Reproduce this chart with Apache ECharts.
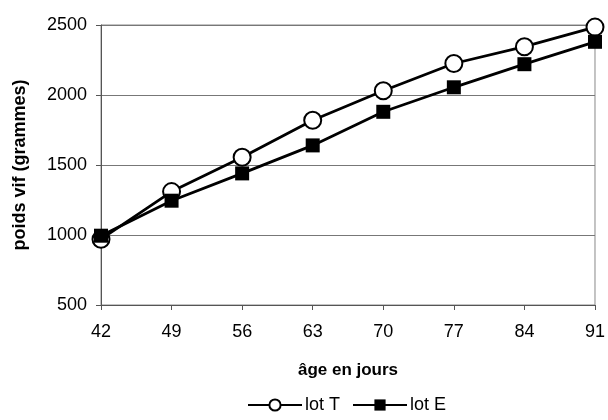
<!DOCTYPE html>
<html><head><meta charset="utf-8">
<script src="https://cdn.jsdelivr.net/npm/echarts@6/dist/echarts.min.js"></script>
<style>html,body{margin:0;padding:0;background:#fff}#c{width:608px;height:420px}</style>
</head><body><div id="c"></div>
<script>
const days = ['42','49','56','63','70','77','84','91'];
const lotT = [970, 1310, 1555, 1820, 2030, 2225, 2345, 2485];
const lotE = [995, 1245, 1440, 1640, 1880, 2055, 2220, 2380];
const yTicks = {min: 500, max: 2500, interval: 500};

const chart = echarts.init(document.getElementById('c'));
const font = 'Liberation Sans, Arial, sans-serif';
chart.setOption({
  animation: false,
  grid: {left: 101, right: 11, top: 25, bottom: 115, show: true, borderColor: '#888', borderWidth: 1},
  xAxis: {
    type: 'category', data: days, boundaryGap: false,
    name: 'âge en jours', nameLocation: 'middle', nameGap: 57,
    nameTextStyle: {fontFamily: font, fontSize: 17, fontWeight: 'bold', color: '#000'},
    axisLine: {lineStyle: {color: '#555'}},
    axisTick: {show: true, alignWithLabel: true, length: 5, lineStyle: {color: '#555'}},
    axisLabel: {fontFamily: font, fontSize: 18, color: '#000', margin: 18},
    splitLine: {show: false}
  },
  yAxis: {
    type: 'value', min: yTicks.min, max: yTicks.max, interval: yTicks.interval,
    name: 'poids vif (grammes)', nameLocation: 'middle', nameGap: 72,
    nameTextStyle: {fontFamily: font, fontSize: 18, fontWeight: 'bold', color: '#000'},
    axisLine: {show: true, lineStyle: {color: '#555'}},
    axisTick: {show: true, length: 5, lineStyle: {color: '#555'}},
    axisLabel: {fontFamily: font, fontSize: 18, color: '#000', margin: 14, formatter: v => String(v)},
    splitLine: {show: true, lineStyle: {color: '#777', width: 1}}
  },
  legend: {
    bottom: 1, left: 242, itemWidth: 54, itemHeight: 14, itemGap: 12,
    textStyle: {fontFamily: font, fontSize: 18, color: '#000', padding: [0, 0, 0, -2]},
    data: ['lot T', 'lot E']
  },
  series: [
    {name: 'lot T', type: 'line', data: lotT, symbol: 'circle', symbolSize: 17,
     lineStyle: {color: '#000', width: 2.8},
     itemStyle: {color: '#fff', borderColor: '#000', borderWidth: 2}, z: 2},
    {name: 'lot E', type: 'line', data: lotE, symbol: 'rect', symbolSize: 14,
     lineStyle: {color: '#000', width: 2.8},
     itemStyle: {color: '#000', borderColor: '#000', borderWidth: 0}, z: 3}
  ]
});
</script></body></html>
